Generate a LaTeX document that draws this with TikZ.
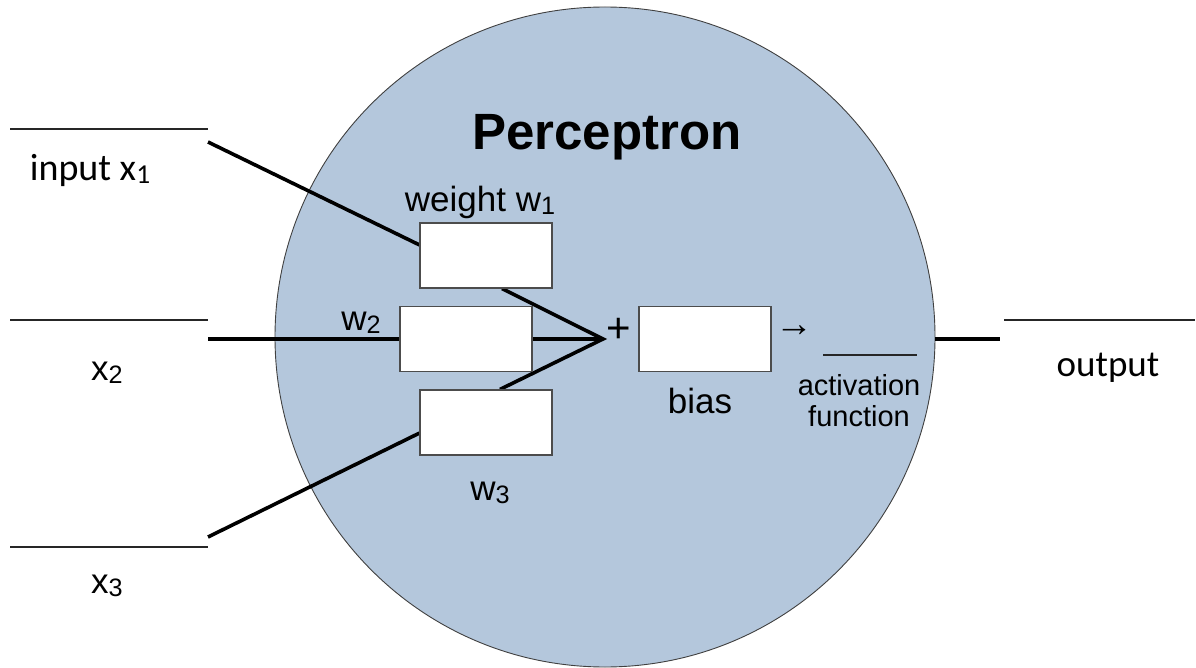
\documentclass[tikz,border=0pt]{standalone}
\usepackage{fontspec}
\setmainfont{Liberation Sans}
\newfontfamily\calib{Carlito}
\usetikzlibrary{calc}
\definecolor{cfill}{HTML}{B4C7DC}
\newcommand{\sbs}[1]{\raisebox{-0.1em}{\scalebox{0.72}{#1}}}
\begin{document}
\begin{tikzpicture}[x=1pt,y=-1pt,
  thinline/.style={line width=1.1pt, draw=black!85},
  heavy/.style={line width=3.6pt, draw=black},
  wbox/.style={draw=black!70, line width=1.2pt, fill=white, minimum width=132pt, minimum height=65pt, inner sep=0pt},
  lbl/.style={font=\fontsize{35}{40}\selectfont, inner sep=0pt},
  clbl/.style={font=\calib\fontsize{37}{42}\selectfont, inner sep=0pt}]
\useasboundingbox (0,0) rectangle (1196,668);
% body
\node[circle, draw=black!75, line width=0.9pt, fill=cfill, minimum size=660pt, inner sep=0pt] (body) at (605,337) {};
% rules
\coordinate (r1a) at (10,129); \coordinate (r1b) at (208,129);
\coordinate (r2a) at (10,320); \coordinate (r2b) at (208,320);
\coordinate (r3a) at (10,547); \coordinate (r3b) at (208,547);
\coordinate (r4a) at (1004,320); \coordinate (r4b) at (1195,320);
\coordinate (r5a) at (823,355); \coordinate (r5b) at (917,355);
\draw[thinline] (r1a) -- (r1b);
\draw[thinline] (r2a) -- (r2b);
\draw[thinline] (r3a) -- (r3b);
\draw[thinline] (r4a) -- (r4b);
\draw[thinline] (r5a) -- (r5b);
% connector points
\coordinate (in1) at (208,142);
\coordinate (in2) at (208,339);
\coordinate (in3) at (208,537);
\coordinate (sum) at (603,339);
\coordinate (out1) at (935,339);
\coordinate (out2) at (1000,339);
% boxes (positions)
\path (486,255.5) node[wbox] (w1) {};
\path (466,339) node[wbox] (w2) {};
\path (486,422.5) node[wbox] (w3) {};
\coordinate (w1in) at ($(w1.north west)!0.34!(w1.south west)$);
\coordinate (w3in) at ($(w3.north west)!0.66!(w3.south west)$);
\coordinate (w1out) at ($(w1.south)+(16,0)$);
\coordinate (w3out) at ($(w3.north)+(14,0)$);
% heavy lines
\draw[heavy] (in1) -- (w1in);
\draw[heavy] (in2) -- (sum);
\draw[heavy] (in3) -- (w3in);
\draw[heavy, line join=miter] (w1out) -- (sum) -- (w3out);
\draw[heavy] (out1) -- (out2);
% boxes drawn on top
\node[wbox] at (w1) {};
\node[wbox] at (w2) {};
\node[wbox] at (w3) {};
\node[wbox] (bias) at (705,339) {};
% texts
\node[font=\bfseries\fontsize{51}{56}\selectfont, inner sep=0pt] (title) at (607,137) {Perceptron};
\node[clbl, font=\calib\fontsize{38}{42}\selectfont] (tin1) at (90,170) {input x\sbs{1}};
\node[lbl] (tin2) at (107,373) {x\sbs{2}};
\node[lbl] (tin3) at (107,586) {x\sbs{3}};
\node[lbl] (tw1) at (480,202) {weight w\sbs{1}};
\node[lbl] (tw2) at (361,323) {w\sbs{2}};
\node[lbl] (tw3) at (490,493) {w\sbs{3}};
\node[lbl, font=\fontsize{42}{46}\selectfont] (plus) at (619,330) {+};
\node[lbl, font=\fontsize{38}{42}\selectfont] (arrow) at (794,331) {→};
\node[lbl] (tbias) at (700,401) {bias};
\node[inner sep=0pt, align=center, font=\fontsize{29}{31}\selectfont] (tact) at (859,401) {activation\\function};
\node[clbl] (tout) at (1108,368) {output};
\end{tikzpicture}
\end{document}
